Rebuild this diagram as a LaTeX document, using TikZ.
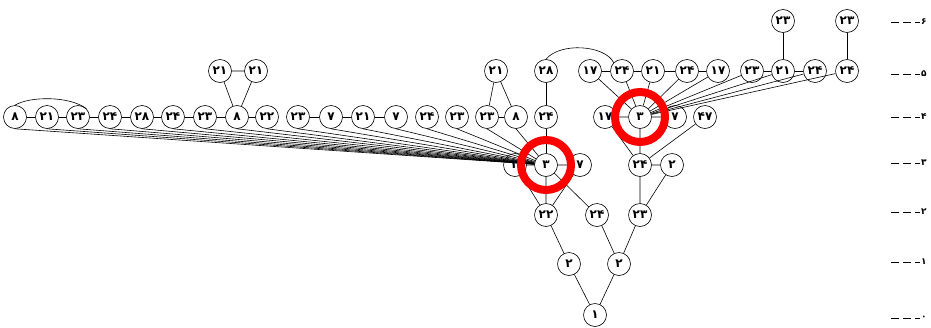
\documentclass[tikz,border=0pt]{standalone}
\usepackage{fontspec}
\newfontfamily\fa{DejaVu Sans}
\begin{document}
\begin{tikzpicture}[x=1pt,y=-1pt,
  vx/.style={circle,draw,line width=0.6pt,fill=white,minimum size=23pt,inner sep=0pt,
    font=\fa\bfseries\fontsize{12}{12}\selectfont},
  ln/.style={line width=0.6pt},
  ring/.style={draw=red,line width=8pt},
  lev/.style={dashed,dash pattern=on 8pt off 4pt,line width=0.6pt},
  levlab/.style={anchor=west,inner sep=0pt,font=\fa\bfseries\fontsize{9}{9}\selectfont}]
\useasboundingbox (0,0) rectangle (931,327);
% left row (level 4)
\node[vx] (a1) at (15,117) {۸};
\node[vx] (a2) at (47,117) {۲۱};
\node[vx] (a3) at (78,117) {۲۳};
\node[vx] (a4) at (110,117) {۲۴};
\node[vx] (a5) at (142,117) {۲۸};
\node[vx] (a6) at (173,117) {۲۴};
\node[vx] (a7) at (205,117) {۲۳};
\node[vx] (a8) at (237,117) {۸};
\node[vx] (a9) at (267,117) {۲۲};
\node[vx] (a10) at (298,117) {۲۳};
\node[vx] (a11) at (331,117) {۷};
\node[vx] (a12) at (363,117) {۲۱};
\node[vx] (a13) at (396,117) {۷};
\node[vx] (a14) at (427,117) {۲۴};
\node[vx] (a15) at (457,117) {۲۳};
\node[vx] (a16) at (487,117) {۲۳};
\node[vx] (a17) at (516,117) {۸};
\node[vx] (a18) at (546,117) {۲۴};
% level 5 left
\node[vx] (t1) at (220,71) {۲۱};
\node[vx] (t2) at (256,71) {۲۱};
\node[vx] (t3) at (496,71) {۲۱};
\node[vx] (t4) at (546,71) {۲۸};
% right row level 5
\node[vx] (r1) at (590,71) {۱۷};
\node[vx] (r2) at (622,71) {۲۴};
\node[vx] (r3) at (653,71) {۲۱};
\node[vx] (r4) at (687,71) {۲۴};
\node[vx] (r5) at (718,71) {۱۷};
\node[vx] (r6) at (752,71) {۲۳};
\node[vx] (r7) at (783,71) {۲۱};
\node[vx] (r8) at (815,71) {۲۴};
\node[vx] (r9) at (847,71) {۲۴};
% level 6
\node[vx] (u1) at (783,21) {۲۳};
\node[vx] (u2) at (847,21) {۲۳};
% right level 4
\node[vx] (q1) at (605,117) {۱۷};
\node[vx] (q2) at (640,117) {۳};
\node[vx] (q3) at (675,117) {۷};
\node[vx] (q4) at (705,117) {۴۷};
% level 3
\node[vx] (b1) at (515,165) {۲};
\node[vx] (b2) at (546,165) {۳};
\node[vx] (b3) at (580,165) {۷};
\node[vx] (c1) at (640,165) {۲۴};
\node[vx] (c2) at (672,165) {۲};
% level 2
\node[vx] (d1) at (546,215) {۲۲};
\node[vx] (d2) at (597,215) {۲۴};
\node[vx] (d3) at (640,215) {۲۳};
% level 1
\node[vx] (e1) at (569,264) {۲};
\node[vx] (e2) at (619,264) {۲};
% level 0
\node[vx] (f) at (595,315) {۱};
% edges
\draw[ln] (a1)--(a2)--(a3)--(a4)--(a5)--(a6)--(a7)--(a8)--(a9);
\draw[ln] (a10)--(a11)--(a12)--(a13);
\draw[ln] (a16)--(a17);
\draw[ln] (t4)--(a18)--(b2);
\draw[ln] (t1)--(t2) (t1)--(a8) (t2)--(a8);
\draw[ln] (t3)--(a16) (t3)--(a17);
\foreach \i in {1,...,17} {\draw[ln] (a\i.south) -- (b2);}
\draw[ln] (a1.north) .. controls (30,96) and (70,96) .. (a3.north east);
\draw[ln] (t4.north) .. controls (560,42) and (605,45) .. (r2.north west);
\draw[ln] (b1)--(b2)--(b3) (b2)--(d1) (b2)--(d2) (b1)--(d1) (b3)--(d1);
\draw[ln] (d1)--(e1)--(f) (d2)--(e2)--(f);
\draw[ln] (r1)--(r2)--(r3)--(r4)--(r5) (r6)--(r7)--(r8);
\draw[ln] (u1)--(r7) (u2)--(r9);
\foreach \i in {1,...,9} {\draw[ln] (r\i) -- (q2);}
\draw[ln] (q1)--(q2)--(q3) (q2)--(c1) (q1)--(c1) (q4)--(c1);
\draw[ln] (c1)--(c2) (c1)--(d3) (c2)--(d3) (d3)--(e2);
% highlight rings
\draw[ring] (b2) circle[radius=25pt];
\draw[ring] (q2) circle[radius=25pt];
% level marks at right edge
\foreach \y/\d [count=\k] in {22/۶,74/۵,117/۴,163/۳,212/۲,262/۱,318/۰} {
  \coordinate (m\k) at (891,\y);
  \coordinate (n\k) at (920,\y);
  \draw[lev] (m\k) -- (n\k);
  \node[levlab] (l\k) at ([xshift=1pt]n\k) {\d};
}
\end{tikzpicture}
\end{document}
